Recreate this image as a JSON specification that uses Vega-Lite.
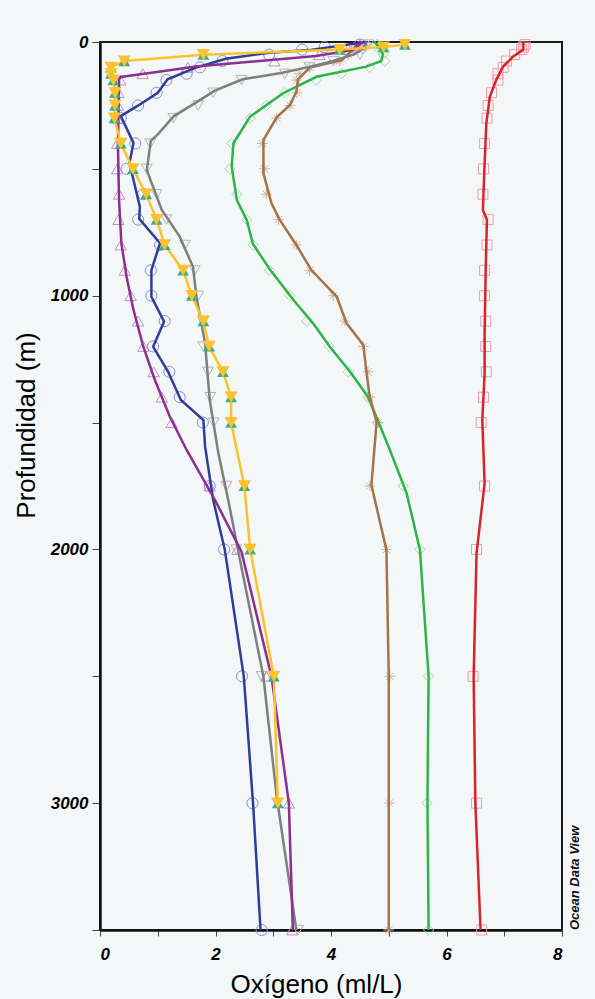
{
  "$schema": "https://vega.github.io/schema/vega-lite/v6.json",
  "width": 462,
  "height": 888,
  "autosize": "none",
  "padding": {"left": 100, "top": 42, "right": 33, "bottom": 69},
  "background": "#f4f7f7",
  "view": {"fill": "#f4f7f7", "stroke": "#1a1a1a", "strokeWidth": 2},
  "title": {"text": "Ocean Data View", "orient": "right", "anchor": "end", "frame": "group", "angle": 270, "align": "left", "baseline": "top", "font": "Liberation Sans", "fontSize": 13, "fontWeight": "bold", "fontStyle": "italic", "color": "#111", "offset": -7},
  "datasets": {
    "lines": [
      {"s":"red","d":0,"v":7.33},{"s":"red","d":30,"v":7.33},{"s":"red","d":58,"v":7.15},{"s":"red","d":97,"v":6.98},{"s":"red","d":150,"v":6.86},{"s":"red","d":216,"v":6.75},{"s":"red","d":321,"v":6.69},{"s":"red","d":478,"v":6.66},{"s":"red","d":662,"v":6.63},{"s":"red","d":701,"v":6.70},{"s":"red","d":886,"v":6.68},{"s":"red","d":1148,"v":6.66},{"s":"red","d":1306,"v":6.66},{"s":"red","d":1490,"v":6.62},{"s":"red","d":1740,"v":6.66},{"s":"red","d":2015,"v":6.52},{"s":"red","d":2502,"v":6.47},{"s":"red","d":3000,"v":6.50},{"s":"red","d":3500,"v":6.59},
      {"s":"green","d":0,"v":4.75},{"s":"green","d":16,"v":4.82},{"s":"green","d":48,"v":4.90},{"s":"green","d":75,"v":4.87},{"s":"green","d":97,"v":4.61},{"s":"green","d":137,"v":3.75},{"s":"green","d":202,"v":3.17},{"s":"green","d":294,"v":2.60},{"s":"green","d":399,"v":2.31},{"s":"green","d":491,"v":2.28},{"s":"green","d":623,"v":2.37},{"s":"green","d":701,"v":2.54},{"s":"green","d":797,"v":2.65},{"s":"green","d":899,"v":2.95},{"s":"green","d":1017,"v":3.35},{"s":"green","d":1109,"v":3.69},{"s":"green","d":1201,"v":3.98},{"s":"green","d":1300,"v":4.33},{"s":"green","d":1398,"v":4.64},{"s":"green","d":1497,"v":4.82},{"s":"green","d":1608,"v":5.02},{"s":"green","d":1779,"v":5.31},{"s":"green","d":2002,"v":5.54},{"s":"green","d":2500,"v":5.69},{"s":"green","d":3000,"v":5.67},{"s":"green","d":3500,"v":5.69},
      {"s":"brown","d":0,"v":4.5},{"s":"brown","d":48,"v":4.3},{"s":"brown","d":72,"v":4.18},{"s":"brown","d":101,"v":3.63},{"s":"brown","d":147,"v":3.43},{"s":"brown","d":196,"v":3.40},{"s":"brown","d":248,"v":3.29},{"s":"brown","d":297,"v":3.06},{"s":"brown","d":386,"v":2.83},{"s":"brown","d":518,"v":2.83},{"s":"brown","d":636,"v":2.97},{"s":"brown","d":700,"v":3.11},{"s":"brown","d":800,"v":3.40},{"s":"brown","d":899,"v":3.66},{"s":"brown","d":1004,"v":4.10},{"s":"brown","d":1109,"v":4.27},{"s":"brown","d":1194,"v":4.56},{"s":"brown","d":1293,"v":4.61},{"s":"brown","d":1398,"v":4.67},{"s":"brown","d":1497,"v":4.79},{"s":"brown","d":1746,"v":4.70},{"s":"brown","d":2002,"v":4.96},{"s":"brown","d":2500,"v":5.0},{"s":"brown","d":3000,"v":5.0},{"s":"brown","d":3500,"v":5.0},
      {"s":"gray","d":0,"v":4.62},{"s":"gray","d":25,"v":4.56},{"s":"gray","d":48,"v":4.41},{"s":"gray","d":75,"v":4.04},{"s":"gray","d":95,"v":3.68},{"s":"gray","d":121,"v":3.16},{"s":"gray","d":147,"v":2.47},{"s":"gray","d":193,"v":1.98},{"s":"gray","d":239,"v":1.66},{"s":"gray","d":292,"v":1.28},{"s":"gray","d":364,"v":1.0},{"s":"gray","d":390,"v":0.88},{"s":"gray","d":505,"v":0.81},{"s":"gray","d":662,"v":1.07},{"s":"gray","d":767,"v":1.38},{"s":"gray","d":886,"v":1.61},{"s":"gray","d":1004,"v":1.67},{"s":"gray","d":1188,"v":1.82},{"s":"gray","d":1411,"v":1.90},{"s":"gray","d":1621,"v":2.05},{"s":"gray","d":1805,"v":2.22},{"s":"gray","d":2002,"v":2.39},{"s":"gray","d":2502,"v":2.83},{"s":"gray","d":2975,"v":3.06},{"s":"gray","d":3500,"v":3.40},
      {"s":"blue","d":0,"v":4.6},{"s":"blue","d":32,"v":3.62},{"s":"blue","d":42,"v":2.93},{"s":"blue","d":66,"v":2.18},{"s":"blue","d":101,"v":1.66},{"s":"blue","d":147,"v":1.17},{"s":"blue","d":200,"v":1.0},{"s":"blue","d":252,"v":0.65},{"s":"blue","d":292,"v":0.36},{"s":"blue","d":398,"v":0.58},{"s":"blue","d":477,"v":0.51},{"s":"blue","d":649,"v":0.69},{"s":"blue","d":697,"v":0.68},{"s":"blue","d":793,"v":1.04},{"s":"blue","d":899,"v":0.89},{"s":"blue","d":1004,"v":0.89},{"s":"blue","d":1102,"v":1.11},{"s":"blue","d":1201,"v":0.92},{"s":"blue","d":1300,"v":1.18},{"s":"blue","d":1411,"v":1.40},{"s":"blue","d":1490,"v":1.79},{"s":"blue","d":1595,"v":1.82},{"s":"blue","d":1805,"v":1.96},{"s":"blue","d":2000,"v":2.16},{"s":"blue","d":2500,"v":2.49},{"s":"blue","d":3000,"v":2.65},{"s":"blue","d":3500,"v":2.78},
      {"s":"purple","d":0,"v":4.55},{"s":"purple","d":31,"v":4.38},{"s":"purple","d":55,"v":3.74},{"s":"purple","d":97,"v":1.66},{"s":"purple","d":122,"v":0.86},{"s":"purple","d":138,"v":0.36},{"s":"purple","d":147,"v":0.33},{"s":"purple","d":300,"v":0.32},{"s":"purple","d":400,"v":0.31},{"s":"purple","d":623,"v":0.33},{"s":"purple","d":793,"v":0.37},{"s":"purple","d":925,"v":0.46},{"s":"purple","d":1056,"v":0.58},{"s":"purple","d":1201,"v":0.75},{"s":"purple","d":1332,"v":0.95},{"s":"purple","d":1477,"v":1.21},{"s":"purple","d":1608,"v":1.50},{"s":"purple","d":1805,"v":1.99},{"s":"purple","d":2009,"v":2.45},{"s":"purple","d":2502,"v":2.97},{"s":"purple","d":3000,"v":3.27},{"s":"purple","d":3500,"v":3.34}
    ],
    "pts": [
      {"s":"red","d":10,"v":7.36},{"s":"red","d":20,"v":7.33},{"s":"red","d":30,"v":7.30},{"s":"red","d":50,"v":7.18},{"s":"red","d":75,"v":7.04},{"s":"red","d":100,"v":6.98},{"s":"red","d":125,"v":6.89},{"s":"red","d":150,"v":6.89},{"s":"red","d":200,"v":6.78},{"s":"red","d":250,"v":6.72},{"s":"red","d":300,"v":6.70},{"s":"red","d":400,"v":6.66},{"s":"red","d":500,"v":6.64},{"s":"red","d":600,"v":6.63},{"s":"red","d":700,"v":6.72},{"s":"red","d":800,"v":6.70},{"s":"red","d":900,"v":6.66},{"s":"red","d":1000,"v":6.66},{"s":"red","d":1100,"v":6.68},{"s":"red","d":1200,"v":6.68},{"s":"red","d":1300,"v":6.69},{"s":"red","d":1400,"v":6.64},{"s":"red","d":1500,"v":6.60},{"s":"red","d":1750,"v":6.66},{"s":"red","d":2000,"v":6.52},{"s":"red","d":2500,"v":6.46},{"s":"red","d":3000,"v":6.52},{"s":"red","d":3500,"v":6.61},
      {"s":"green","d":10,"v":4.80},{"s":"green","d":20,"v":4.85},{"s":"green","d":30,"v":4.84},{"s":"green","d":50,"v":4.90},{"s":"green","d":75,"v":4.93},{"s":"green","d":100,"v":4.67},{"s":"green","d":125,"v":4.18},{"s":"green","d":150,"v":3.75},{"s":"green","d":200,"v":3.20},{"s":"green","d":250,"v":2.88},{"s":"green","d":300,"v":2.60},{"s":"green","d":400,"v":2.28},{"s":"green","d":500,"v":2.25},{"s":"green","d":600,"v":2.37},{"s":"green","d":700,"v":2.54},{"s":"green","d":800,"v":2.65},{"s":"green","d":900,"v":2.93},{"s":"green","d":1000,"v":3.29},{"s":"green","d":1100,"v":3.58},{"s":"green","d":1200,"v":3.97},{"s":"green","d":1300,"v":4.30},{"s":"green","d":1400,"v":4.64},{"s":"green","d":1500,"v":4.80},{"s":"green","d":1750,"v":5.25},{"s":"green","d":2000,"v":5.54},{"s":"green","d":2500,"v":5.69},{"s":"green","d":3000,"v":5.66},{"s":"green","d":3500,"v":5.69},
      {"s":"brown","d":10,"v":4.6},{"s":"brown","d":20,"v":4.5},{"s":"brown","d":30,"v":4.4},{"s":"brown","d":50,"v":4.3},{"s":"brown","d":75,"v":4.15},{"s":"brown","d":100,"v":3.63},{"s":"brown","d":125,"v":3.45},{"s":"brown","d":150,"v":3.40},{"s":"brown","d":200,"v":3.41},{"s":"brown","d":250,"v":3.29},{"s":"brown","d":300,"v":3.06},{"s":"brown","d":400,"v":2.81},{"s":"brown","d":500,"v":2.85},{"s":"brown","d":600,"v":2.88},{"s":"brown","d":700,"v":3.09},{"s":"brown","d":800,"v":3.40},{"s":"brown","d":900,"v":3.63},{"s":"brown","d":1000,"v":4.04},{"s":"brown","d":1100,"v":4.24},{"s":"brown","d":1200,"v":4.56},{"s":"brown","d":1300,"v":4.64},{"s":"brown","d":1400,"v":4.67},{"s":"brown","d":1500,"v":4.82},{"s":"brown","d":1750,"v":4.67},{"s":"brown","d":2000,"v":4.96},{"s":"brown","d":2500,"v":5.02},{"s":"brown","d":3000,"v":5.01},{"s":"brown","d":3500,"v":5.0},
      {"s":"gray","d":10,"v":4.65},{"s":"gray","d":20,"v":4.6},{"s":"gray","d":30,"v":4.55},{"s":"gray","d":50,"v":4.5},{"s":"gray","d":75,"v":4.04},{"s":"gray","d":100,"v":3.63},{"s":"gray","d":125,"v":3.20},{"s":"gray","d":150,"v":2.45},{"s":"gray","d":200,"v":1.96},{"s":"gray","d":250,"v":1.70},{"s":"gray","d":300,"v":1.27},{"s":"gray","d":400,"v":0.87},{"s":"gray","d":500,"v":0.81},{"s":"gray","d":600,"v":0.98},{"s":"gray","d":700,"v":1.15},{"s":"gray","d":800,"v":1.47},{"s":"gray","d":900,"v":1.64},{"s":"gray","d":1000,"v":1.70},{"s":"gray","d":1100,"v":1.78},{"s":"gray","d":1200,"v":1.79},{"s":"gray","d":1300,"v":1.87},{"s":"gray","d":1400,"v":1.91},{"s":"gray","d":1500,"v":1.97},{"s":"gray","d":1750,"v":2.19},{"s":"gray","d":2000,"v":2.36},{"s":"gray","d":2500,"v":2.80},{"s":"gray","d":3000,"v":3.07},{"s":"gray","d":3500,"v":3.43},
      {"s":"blue","d":10,"v":4.5},{"s":"blue","d":20,"v":3.89},{"s":"blue","d":30,"v":3.5},{"s":"blue","d":50,"v":2.93},{"s":"blue","d":75,"v":2.12},{"s":"blue","d":100,"v":1.73},{"s":"blue","d":125,"v":1.50},{"s":"blue","d":150,"v":1.15},{"s":"blue","d":200,"v":0.98},{"s":"blue","d":250,"v":0.66},{"s":"blue","d":300,"v":0.36},{"s":"blue","d":400,"v":0.61},{"s":"blue","d":500,"v":0.46},{"s":"blue","d":600,"v":0.75},{"s":"blue","d":700,"v":0.66},{"s":"blue","d":800,"v":1.04},{"s":"blue","d":900,"v":0.88},{"s":"blue","d":1000,"v":0.89},{"s":"blue","d":1100,"v":1.12},{"s":"blue","d":1200,"v":0.92},{"s":"blue","d":1300,"v":1.20},{"s":"blue","d":1400,"v":1.38},{"s":"blue","d":1500,"v":1.78},{"s":"blue","d":1750,"v":1.90},{"s":"blue","d":2000,"v":2.15},{"s":"blue","d":2500,"v":2.46},{"s":"blue","d":3000,"v":2.64},{"s":"blue","d":3500,"v":2.80},
      {"s":"purple","d":10,"v":4.5},{"s":"purple","d":20,"v":4.4},{"s":"purple","d":30,"v":4.3},{"s":"purple","d":50,"v":3.8},{"s":"purple","d":75,"v":3.02},{"s":"purple","d":100,"v":1.52},{"s":"purple","d":125,"v":0.74},{"s":"purple","d":150,"v":0.35},{"s":"purple","d":200,"v":0.32},{"s":"purple","d":250,"v":0.31},{"s":"purple","d":300,"v":0.30},{"s":"purple","d":400,"v":0.30},{"s":"purple","d":500,"v":0.30},{"s":"purple","d":600,"v":0.33},{"s":"purple","d":700,"v":0.32},{"s":"purple","d":800,"v":0.36},{"s":"purple","d":900,"v":0.43},{"s":"purple","d":1000,"v":0.53},{"s":"purple","d":1100,"v":0.66},{"s":"purple","d":1200,"v":0.75},{"s":"purple","d":1300,"v":0.93},{"s":"purple","d":1400,"v":1.07},{"s":"purple","d":1500,"v":1.24},{"s":"purple","d":1750,"v":1.90},{"s":"purple","d":2000,"v":2.38},{"s":"purple","d":2500,"v":2.88},{"s":"purple","d":3000,"v":3.27},{"s":"purple","d":3500,"v":3.33}
    ],
    "yel": [
      {"d":10,"v":5.28},{"d":20,"v":4.91},{"d":30,"v":4.15},{"d":50,"v":1.79},{"d":75,"v":0.42},{"d":100,"v":0.19},{"d":125,"v":0.19},{"d":150,"v":0.23},{"d":200,"v":0.26},{"d":250,"v":0.26},{"d":300,"v":0.25},{"d":400,"v":0.36},{"d":500,"v":0.57},{"d":600,"v":0.80},{"d":700,"v":0.98},{"d":800,"v":1.12},{"d":900,"v":1.44},{"d":1000,"v":1.59},{"d":1100,"v":1.79},{"d":1200,"v":1.89},{"d":1300,"v":2.13},{"d":1400,"v":2.27},{"d":1500,"v":2.27},{"d":1750,"v":2.50},{"d":2000,"v":2.60},{"d":2500,"v":3.01},{"d":3000,"v":3.08}
    ]
  },
  "encoding": {
    "x": {
      "field": "v", "type": "quantitative",
      "scale": {"domain": [0, 8], "nice": false, "zero": false},
      "axis": {
        "orient": "bottom",
        "values": [0, 1, 2, 3, 4, 5, 6, 7, 8],
        "labelExpr": "datum.value % 2 == 0 ? datum.label : ''",
        "grid": false,
        "title": "Oxígeno (ml/L)",
        "titleFont": "Liberation Sans", "titleFontSize": 26, "titleFontWeight": "normal", "titleColor": "#000",
        "titleBaseline": "alphabetic", "titleAlign": "center", "titleX": 216, "titleY": 62,
        "labelFont": "Liberation Sans", "labelFontSize": 17, "labelFontWeight": "bold", "labelFontStyle": "italic", "labelColor": "#000",
        "labelPadding": 10, "tickSize": 6, "tickColor": "#444", "tickWidth": 1,
        "domainColor": "#111", "domainWidth": 2.5
      }
    },
    "y": {
      "field": "d", "type": "quantitative",
      "scale": {"domain": [0, 3500], "reverse": true, "nice": false, "zero": false},
      "axis": {
        "orient": "left",
        "values": [0, 500, 1000, 1500, 2000, 2500, 3000, 3500],
        "format": "d",
        "labelExpr": "datum.value % 1000 == 0 ? datum.label : ''",
        "grid": false,
        "title": "Profundidad (m)",
        "titleFont": "Liberation Sans", "titleFontSize": 26, "titleFontWeight": "normal", "titleColor": "#000",
        "titleAngle": 270, "titleBaseline": "alphabetic", "titleAlign": "center", "titleX": -66, "titleY": 383,
        "labelFont": "Liberation Sans", "labelFontSize": 17, "labelFontWeight": "bold", "labelFontStyle": "italic", "labelColor": "#000",
        "labelPadding": 4, "tickSize": 8, "tickColor": "#444", "tickWidth": 1,
        "domainColor": "#111", "domainWidth": 2.5
      }
    }
  },
  "layer": [
    {
      "data": {"name": "pts"},
      "mark": {"type": "point", "filled": false, "strokeWidth": 1, "opacity": 1},
      "encoding": {
        "stroke": {"field": "s", "type": "nominal", "legend": null,
          "scale": {"domain": ["red","green","brown","gray","blue","purple"], "range": ["#f09aa4","#9fd9a3","#d4b49c","#b4b4b4","#8a8ad4","#c98cc9"]}},
        "shape": {"field": "s", "type": "nominal", "legend": null,
          "scale": {"domain": ["red","green","brown","gray","blue","purple"], "range": ["square","diamond","M-1,0H1M0,-1V1M-0.7,-0.7L0.7,0.7M-0.7,0.7L0.7,-0.7","triangle-down","circle","triangle-up"]}},
        "size": {"field": "s", "type": "nominal", "legend": null,
          "scale": {"domain": ["red","green","brown","gray","blue","purple"], "range": [100, 130, 150, 140, 110, 140]}}
      }
    },
    {
      "data": {"name": "lines"},
      "mark": {"type": "line", "strokeWidth": 2.5},
      "encoding": {
        "color": {"field": "s", "type": "nominal", "legend": null,
          "scale": {"domain": ["red","green","brown","gray","blue","purple"], "range": ["#d8232a","#2db34a","#a3744c","#7f7f7f","#2f3d9a","#8c2e92"]}},
        "order": {"field": "d", "type": "quantitative"}
      }
    },
    {
      "data": {"name": "yel"},
      "mark": {"type": "line", "strokeWidth": 2.5, "color": "#f9c22e"},
      "encoding": {"order": {"field": "d", "type": "quantitative"}}
    },
    {
      "data": {"name": "yel"},
      "mark": {"type": "point", "shape": "triangle-up", "filled": true, "color": "#3aae8c", "opacity": 1, "size": 140}
    },
    {
      "data": {"name": "yel"},
      "mark": {"type": "point", "shape": "triangle-down", "filled": true, "color": "#f9c22e", "opacity": 1, "size": 170}
    }
  ]
}
